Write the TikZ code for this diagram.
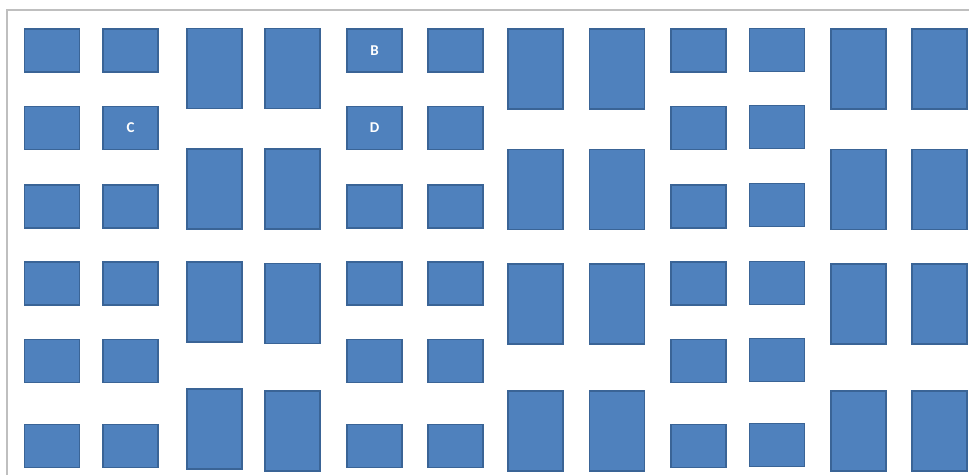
\documentclass[tikz,border=0pt]{standalone}
\usepackage{fontspec}
\setsansfont{Carlito}
\definecolor{tileblue}{HTML}{4F81BD}
\definecolor{tileedge}{HTML}{3A6496}
\definecolor{framegray}{HTML}{BFBFBF}

\begin{document}
\begin{tikzpicture}[
            x=1pt, y=-1pt,
            tile/.style={draw=tileedge, fill=tileblue, line width=1.2pt, inner sep=0pt, text=white, font=\sffamily\bfseries\fontsize{15}{15}\selectfont},
            small/.style={tile, minimum width=55pt, minimum height=43pt},
            tall/.style={tile, minimum width=55pt, minimum height=80pt}
        ]
        \useasboundingbox (0,0) rectangle (969,475);
        \draw[framegray, line width=2pt] (7,475) -- (7,10) -- (969,10);

        \node[small] (r1c1) at (52,50.5) {};
        \node[small] (r2c1) at (52,128) {};
        \node[small] (r3c1) at (52,206.5) {};
        \node[small] (r4c1) at (52,283.5) {};
        \node[small] (r5c1) at (52,361) {};
        \node[small] (r6c1) at (52,446) {};

        \node[small] (r1c2) at (130.5,50.5) {};
        \node[small] (r2c2) at (130.5,128) {C};
        \node[small] (r3c2) at (130.5,206.5) {};
        \node[small] (r4c2) at (130.5,283.5) {};
        \node[small] (r5c2) at (130.5,361) {};
        \node[small] (r6c2) at (130.5,446) {};

        \node[tall] (t1c3) at (214.5,68.5) {};
        \node[tall] (t2c3) at (214.5,189) {};
        \node[tall] (t3c3) at (214.5,302) {};
        \node[tall] (t4c3) at (214.5,429) {};

        \node[tall] (t1c4) at (292.5,68.5) {};
        \node[tall] (t2c4) at (292.5,189) {};
        \node[tall] (t3c4) at (292.5,303.5) {};
        \node[tall] (t4c4) at (292.5,431) {};

        \node[small] (r1c5) at (374.5,50.5) {B};
        \node[small] (r2c5) at (374.5,128) {D};
        \node[small] (r3c5) at (374.5,206.5) {};
        \node[small] (r4c5) at (374.5,283.5) {};
        \node[small] (r5c5) at (374.5,361) {};
        \node[small] (r6c5) at (374.5,446) {};

        \node[small] (r1c6) at (455.5,50.5) {};
        \node[small] (r2c6) at (455.5,128) {};
        \node[small] (r3c6) at (455.5,206.5) {};
        \node[small] (r4c6) at (455.5,283.5) {};
        \node[small] (r5c6) at (455.5,361) {};
        \node[small] (r6c6) at (455.5,446) {};

        \node[tall] (t1c7) at (535.5,69) {};
        \node[tall] (t2c7) at (535.5,189.5) {};
        \node[tall] (t3c7) at (535.5,304) {};
        \node[tall] (t4c7) at (535.5,431) {};

        \node[tall] (t1c8) at (617,69) {};
        \node[tall] (t2c8) at (617,189.5) {};
        \node[tall] (t3c8) at (617,304) {};
        \node[tall] (t4c8) at (617,431) {};

        \node[small] (r1c9) at (698.5,50.5) {};
        \node[small] (r2c9) at (698.5,128) {};
        \node[small] (r3c9) at (698.5,206.5) {};
        \node[small] (r4c9) at (698.5,283.5) {};
        \node[small] (r5c9) at (698.5,361) {};
        \node[small] (r6c9) at (698.5,446) {};

        \node[small] (r1c10) at (777,50) {};
        \node[small] (r2c10) at (777,127) {};
        \node[small] (r3c10) at (777,205) {};
        \node[small] (r4c10) at (777,283) {};
        \node[small] (r5c10) at (777,360) {};
        \node[small] (r6c10) at (777,445) {};

        \node[tall] (t1c11) at (858.5,69) {};
        \node[tall] (t2c11) at (858.5,189.5) {};
        \node[tall] (t3c11) at (858.5,304) {};
        \node[tall] (t4c11) at (858.5,431) {};

        \node[tall] (t1c12) at (939.5,69) {};
        \node[tall] (t2c12) at (939.5,189.5) {};
        \node[tall] (t3c12) at (939.5,304) {};
        \node[tall] (t4c12) at (939.5,431) {};
        \end{tikzpicture}
\end{document}
